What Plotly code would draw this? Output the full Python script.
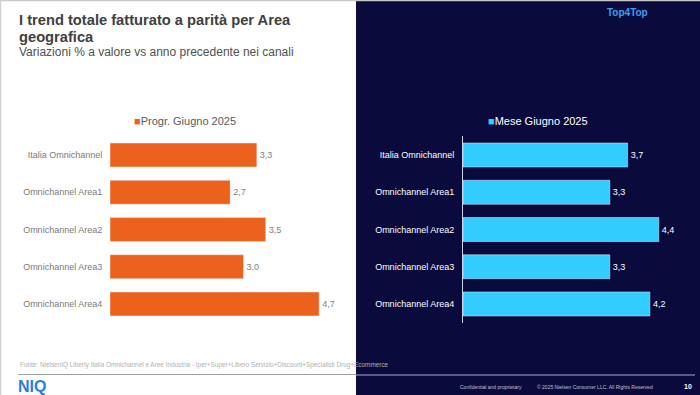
import plotly.graph_objects as go

categories = ["Italia Omnichannel", "Omnichannel Area1", "Omnichannel Area2",
              "Omnichannel Area3", "Omnichannel Area4"]
progr_values = [3.3, 2.7, 3.5, 3.0, 4.7]
mese_values = [3.7, 3.3, 4.4, 3.3, 4.2]
progr_name = "Progr. Giugno 2025"
mese_name = "Mese Giugno 2025"

ORANGE = "#EC611C"
CYAN = "#33CCFF"
NAVY = "#0A0A3C"
FONT = "Liberation Sans, Arial, sans-serif"

W, H = 700, 395
def px(x):
    return x / W
def py(y):
    return 1 - y / H

fig = go.Figure()
fig.add_trace(go.Bar(
    y=categories, x=progr_values, orientation="h", name=progr_name,
    marker=dict(color=ORANGE), xaxis="x", yaxis="y",
    texttemplate="%{x:.1f}", textposition="outside", cliponaxis=False,
    textfont=dict(color="#7f7f7f", size=9, family=FONT),
))
fig.add_trace(go.Bar(
    y=categories, x=mese_values, orientation="h", name=mese_name,
    marker=dict(color=CYAN), xaxis="x2", yaxis="y2",
    texttemplate="%{x:.1f}", textposition="outside", cliponaxis=False,
    textfont=dict(color="#ffffff", size=9, family=FONT),
))

ydom = [py(322.6), py(136.4)]
fig.update_layout(
    width=W, height=H, margin=dict(l=0, r=0, t=0, b=0),
    paper_bgcolor="white", plot_bgcolor="rgba(0,0,0,0)",
    separators=",.", bargap=0.356, font=dict(family=FONT),
    showlegend=False,
    xaxis=dict(domain=[px(110), px(332.5)], range=[0, 5], visible=False),
    yaxis=dict(domain=ydom, anchor="x", autorange="reversed",
               showline=False, showgrid=False, ticks="outside", ticklen=5,
               tickcolor="rgba(0,0,0,0)",
               tickfont=dict(color="#7a7a7a", size=9, family=FONT)),
    xaxis2=dict(domain=[px(463), px(685.5)], range=[0, 5], visible=False,
                anchor="y2"),
    yaxis2=dict(domain=ydom, anchor="x2", autorange="reversed",
                showline=True, linecolor="#cfd3e6", linewidth=1,
                showgrid=False, ticks="outside", ticklen=6,
                tickcolor="rgba(0,0,0,0)",
                tickfont=dict(color="#ffffff", size=9, family=FONT)),
)

shapes = [
    dict(type="rect", xref="paper", yref="paper", x0=px(356), x1=1, y0=0, y1=py(1),
         fillcolor=NAVY, line=dict(width=0), layer="below"),
    dict(type="line", xref="paper", yref="paper", x0=0, x1=1, y0=py(0.5), y1=py(0.5),
         line=dict(color="#c8c8c8", width=1.5)),
    dict(type="line", xref="paper", yref="paper", x0=px(0.5), x1=px(0.5), y0=0, y1=1,
         line=dict(color="#d0d0d0", width=1.5)),
    dict(type="line", xref="paper", yref="paper", x0=px(18), x1=px(356), y0=py(374.5), y1=py(374.5),
         line=dict(color="#a0a0a0", width=1)),
    dict(type="line", xref="paper", yref="paper", x0=px(356), x1=px(695), y0=py(375), y1=py(375),
         line=dict(color="#a8a8c8", width=1)),
]
fig.update_layout(shapes=shapes)

ann = [
    dict(text="<b>I trend totale fatturato a parità per Area</b>",
         x=px(17), y=py(20), xanchor="left", yanchor="middle", align="left",
         font=dict(size=14.7, color="#404040", family=FONT)),
    dict(text="<b>geografica</b>",
         x=px(17), y=py(37), xanchor="left", yanchor="middle", align="left",
         font=dict(size=14.7, color="#404040", family=FONT)),
    dict(text="Variazioni % a valore vs anno precedente nei canali",
         x=px(17), y=py(52), xanchor="left", yanchor="middle", align="left",
         font=dict(size=12, color="#505050", family=FONT)),
    dict(text="<span style='color:%s'>■</span>%s" % (ORANGE, progr_name),
         x=px(132), y=py(121), xanchor="left", yanchor="middle",
         font=dict(size=11, color="#595959", family=FONT)),
    dict(text="<span style='color:%s'>■</span>%s" % (CYAN, mese_name),
         x=px(486), y=py(121), xanchor="left", yanchor="middle",
         font=dict(size=11, color="#ffffff", family=FONT)),
    dict(text="<b>Top4Top</b>", x=px(627), y=py(12), xanchor="center", yanchor="middle",
         font=dict(size=10, color="#3aa0f0", family=FONT)),
    dict(text="Fonte: NielsenIQ Liberty Italia Omnichannel e Aree Industria - Iper+Super+Libero Servizio+Discount+Specialisti Drug+Ecommerce",
         x=px(18), y=py(365), xanchor="left", yanchor="middle",
         font=dict(size=6.4, color="#b0b0b0", family=FONT)),
    dict(text="<b>NIQ</b>", x=px(16), y=py(386), xanchor="left", yanchor="middle",
         font=dict(size=16, color="#2a7de1", family=FONT)),
    dict(text="Confidential and proprietary", x=px(458), y=py(387), xanchor="left", yanchor="middle",
         font=dict(size=5, color="#c0c0d0", family=FONT)),
    dict(text="© 2025 Nielsen Consumer LLC. All Rights Reserved", x=px(535), y=py(387),
         xanchor="left", yanchor="middle",
         font=dict(size=5, color="#c0c0d0", family=FONT)),
    dict(text="<b>10</b>", x=px(688), y=py(386), xanchor="center", yanchor="middle",
         font=dict(size=7, color="#ffffff", family=FONT)),
]
for a in ann:
    a.update(xref="paper", yref="paper", showarrow=False)
fig.update_layout(annotations=ann)

fig.write_html("out.html", config={"displayModeBar": False})
with open("out.html", "r", encoding="utf-8") as f:
    html = f.read()
html = html.replace("<head>", "<head><style>html,body{margin:0;padding:0;overflow:hidden;}</style>", 1)
with open("out.html", "w", encoding="utf-8") as f:
    f.write(html)
